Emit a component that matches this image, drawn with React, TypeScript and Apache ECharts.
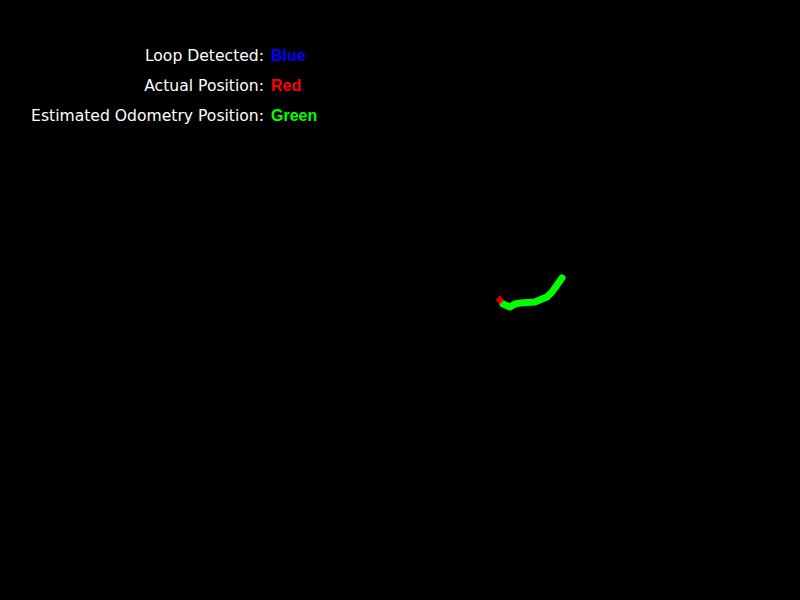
import React, { useEffect, useRef } from "react";
import * as echarts from "echarts";

// Trajectory in a frame centred on the canvas (x right, y up)
const odometryX = [103, 110, 115, 120, 135, 142, 147, 152, 157, 162];
const odometryY = [-4, -7, -4, -3, -2, 1, 3, 8, 15, 22];
const actualX = [100];
const actualY = [0];
const loopX: number[] = [];
const loopY: number[] = [];

const legendLabels = ["Loop Detected:", "Actual Position:", "Estimated Odometry Position:"];
const legendWords = ["Blue", "Red", "Green"];
const legendColors = ["#0000ff", "#ff0000", "#00ff00"];

export default function App() {
  const ref = useRef<HTMLDivElement>(null);
  useEffect(() => {
    if (!ref.current) return;
    const chart = echarts.init(ref.current, undefined, { renderer: "svg" });
    const graphics: any[] = [];
    legendLabels.forEach((t, i) => {
      const y = 56 + i * 30;
      graphics.push({
        type: "text",
        x: 264,
        y,
        style: {
          text: t,
          fill: "#ffffff",
          font: "15.6px 'DejaVu Sans'",
          textAlign: "right",
          textVerticalAlign: "middle",
        },
      });
      graphics.push({
        type: "text",
        x: 271,
        y: y - 1,
        style: {
          text: legendWords[i],
          fill: legendColors[i],
          font: "bold 16px 'Liberation Sans'",
          textAlign: "left",
          textVerticalAlign: "middle",
        },
      });
    });
    chart.setOption({
      animation: false,
      backgroundColor: "#000000",
      grid: { left: 0, right: 0, top: 0, bottom: 0 },
      xAxis: { type: "value", min: -400, max: 400, show: false },
      yAxis: { type: "value", min: -300, max: 300, show: false },
      graphic: graphics,
      series: [
        {
          type: "line",
          data: odometryX.map((x, i) => [x, odometryY[i]]),
          showSymbol: false,
          lineStyle: { color: "#00ff00", width: 7, cap: "round", join: "round" },
          z: 2,
        },
        {
          type: "scatter",
          data: actualX.map((x, i) => [x, actualY[i]]),
          symbol: "diamond",
          symbolSize: 9,
          itemStyle: { color: "#ff0000" },
          z: 3,
        },
        {
          type: "scatter",
          data: loopX.map((x, i) => [x, loopY[i]]),
          symbolSize: 8,
          itemStyle: { color: "#0000ff" },
          z: 4,
        },
      ],
    });
    return () => chart.dispose();
  }, []);
  return (
    <div
      ref={ref}
      style={{ position: "fixed", left: 0, top: 0, width: 800, height: 600 }}
    />
  );
}
